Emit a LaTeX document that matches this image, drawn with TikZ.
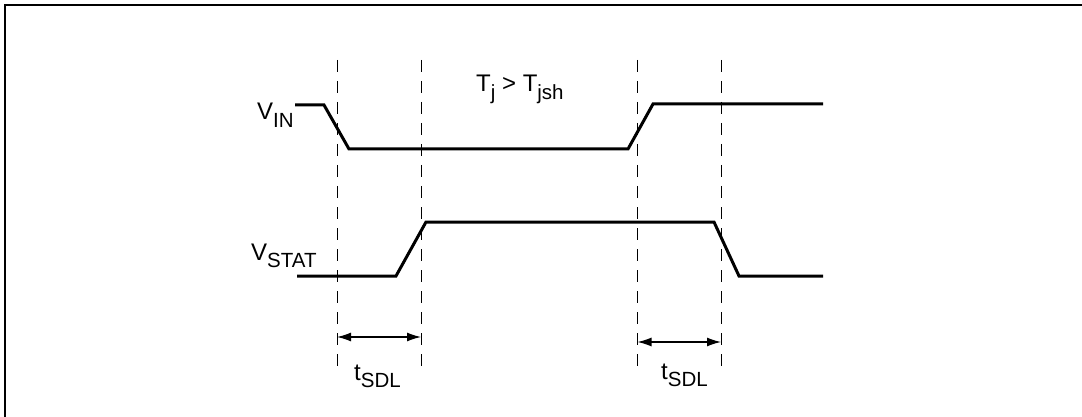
\documentclass[tikz,border=0pt]{standalone}
\usepackage{fontspec}
\setmainfont{Liberation Sans}
\usetikzlibrary{arrows.meta}
\newcommand\lowsub[1]{\raisebox{-0.3em}{\fontsize{20.5}{22}\selectfont #1}}
\begin{document}
\begin{tikzpicture}[x=1pt,y=-1pt,
  sig/.style={line width=3pt, line join=miter},
  guide/.style={line width=1pt, dash pattern=on 12pt off 9pt},
  dim/.style={line width=1.3pt, {Latex[length=14pt,width=9pt]}-{Latex[length=14pt,width=9pt]}},
  lbl/.style={font=\fontsize{24}{28}\selectfont, inner sep=0pt, anchor=base west}]
\useasboundingbox (0,0) rectangle (1082,417);
\draw[line width=2pt] (5,417) -- (5,5) -- (1082,5);
% guide lines
\foreach \x/\n in {337/g1,421/g2,637.5/g3,721/g4}{
  \coordinate (\n t) at (\x,60);
  \coordinate (\n b) at (\x,372);
  \draw[guide] (\n t) -- (\n b);
}
% signals
\draw[sig] (295,105) -- (324,105) -- (349,149) -- (628,149) -- (653,104) -- (823,104);
\draw[sig] (297,276) -- (396,276) -- (426,222) -- (714,222) -- (739,276) -- (823,276);
% dimension arrows
\coordinate (a1) at (337,337);
\coordinate (a2) at (421,337);
\coordinate (b1) at (637.5,342);
\coordinate (b2) at (721,342);
\draw[dim] (a1) -- (a2);
\draw[dim] (b1) -- (b2);
% labels
\node[lbl] (vin) at (257,120) {V\lowsub{IN}};
\node[lbl] (vstat) at (251,260) {V\lowsub{STAT}};
\node[lbl] (tj) at (476,92) {T\lowsub{j} > T\lowsub{jsh}};
\node[lbl] (t1) at (354,380) {t\lowsub{SDL}};
\node[lbl] (t2) at (661,379) {t\lowsub{SDL}};
\end{tikzpicture}
\end{document}
